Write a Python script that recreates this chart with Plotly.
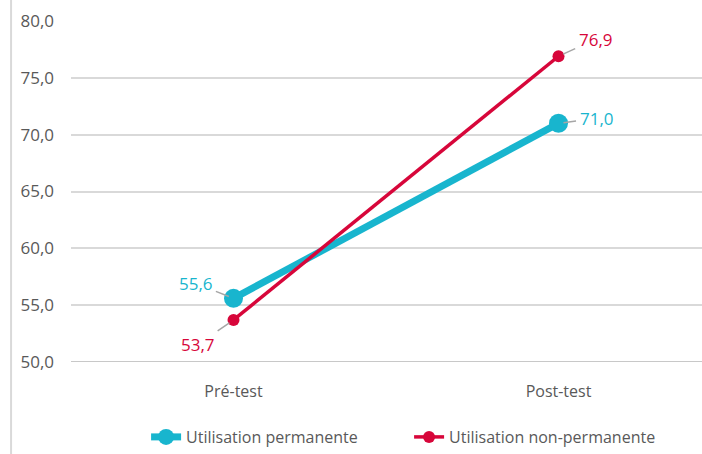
import plotly.graph_objects as go

categories = ["Pré-test", "Post-test"]
permanente = [55.6, 71.0]
non_permanente = [53.7, 76.9]
series_names = ["Utilisation permanente", "Utilisation non-permanente"]
y_ticks = [50, 55, 60, 65, 70, 75, 80]

CYAN = "#18B5CE"
RED = "#D7063A"
GRAY_TXT = "#595959"
FONT = "Open Sans"

fig = go.Figure()
fig.add_trace(go.Scatter(
    x=categories, y=permanente, name=series_names[0], mode="lines+markers",
    line=dict(color=CYAN, width=7), marker=dict(color=CYAN, size=19),
))
fig.add_trace(go.Scatter(
    x=categories, y=non_permanente, name=series_names[1], mode="lines+markers",
    line=dict(color=RED, width=3.5), marker=dict(color=RED, size=12),
))

label_offsets = {
    (0, 0): (-38, -15), (0, 1): (38, -5),
    (1, 0): (-36, 25), (1, 1): (37, -17),
}
for si, (vals, col) in enumerate([(permanente, CYAN), (non_permanente, RED)]):
    for ci, v in enumerate(vals):
        ax, ay = label_offsets[(si, ci)]
        fig.add_annotation(
            x=categories[ci], y=v, text=f"{v:.1f}".replace(".", ","),
            showarrow=True, arrowhead=0, arrowwidth=1.5, arrowcolor="#A6A6A6",
            ax=ax, ay=ay, standoff=5, startstandoff=2,
            font=dict(family=FONT, size=17, color=col),
        )

fig.add_shape(type="line", xref="paper", yref="paper",
              x0=-0.095, x1=-0.095, y0=1.07, y1=-0.27,
              line=dict(color="#D9D9D9", width=2))

fig.update_layout(
    width=702, height=454,
    margin=dict(l=71, r=0, t=21, b=91),
    paper_bgcolor="white", plot_bgcolor="white",
    separators=",.",
    font=dict(family=FONT, size=17, color=GRAY_TXT),
    showlegend=True,
    legend=dict(orientation="h", x=0.119, xanchor="left", y=-0.219, yanchor="middle",
                font=dict(family=FONT, size=16, color=GRAY_TXT),
                entrywidth=218, entrywidthmode="pixels",
                traceorder="normal"),
    xaxis=dict(range=[-0.5, 1.4415], showgrid=False, zeroline=False,
               showline=False, ticks="", tickfont=dict(size=16, color=GRAY_TXT),
               ticklabelstandoff=18),
    yaxis=dict(range=[50, 80], tickvals=y_ticks, tickformat=".1f",
               showgrid=True, gridcolor="#D9D9D9", gridwidth=1.5,
               zeroline=False, showline=False, ticks="",
               tickfont=dict(size=17, color=GRAY_TXT), ticklabelstandoff=16),
)
fig.add_hline(y=50, line=dict(color="#C8C8C8", width=2), layer="below")

fig.write_html("out.html", config={"displayModeBar": False},
               post_script="document.body.style.margin='0';")
